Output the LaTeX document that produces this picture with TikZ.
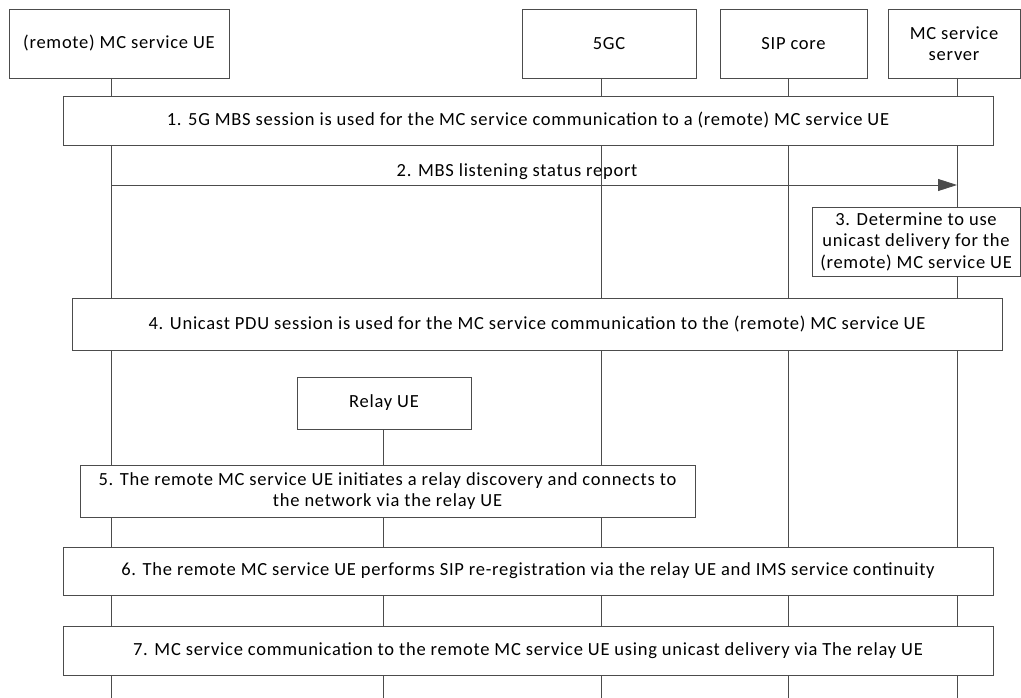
\documentclass[tikz,border=0pt]{standalone}
\usepackage{fontspec}
\setmainfont{Carlito}[LetterSpace=4]
\usetikzlibrary{arrows.meta,positioning,calc}
\definecolor{linegray}{gray}{0.3}

\begin{document}
\begin{tikzpicture}[x=1pt,y=-1pt,
  font=\fontsize{18.5}{21.5}\selectfont,
  actor/.style={draw=linegray,fill=white,line width=0.8pt,align=center,inner sep=2pt},
  stepbox/.style={draw=linegray,fill=white,line width=0.8pt,align=center,inner sep=2pt},
  life/.style={linegray,line width=0.8pt},
  msg/.style={-{Triangle[length=19pt,width=12pt]},linegray,line width=0.8pt}]
\useasboundingbox (0,0) rectangle (1021,698);
% participants
\node[actor,minimum width=220pt,minimum height=69pt] (ue) at (119,43.5) {(remote) MC service UE};
\node[actor,minimum width=174pt,minimum height=69pt] (cn) at (609,43.5) {5GC};
\node[actor,minimum width=147pt,minimum height=69pt] (sip) at (793.5,43.5) {SIP core};
\node[actor,minimum width=132pt,minimum height=69pt] (srv) at (954,43.5) {MC service\\server};
% lifelines
\coordinate (bot) at (0,698);
\coordinate (ueL) at (111,78);
\coordinate (cnL) at (601,78);
\coordinate (sipL) at (788,78);
\coordinate (srvL) at (957,78);
\coordinate (rlyL) at (383,429);
\draw[life] (ueL) -- (ueL |- bot);
\draw[life] (cnL) -- (cnL |- bot);
\draw[life] (sipL) -- (sipL |- bot);
\draw[life] (srvL) -- (srvL |- bot);
\draw[life] (rlyL) -- (rlyL |- bot);
% steps
\node[stepbox,minimum width=930pt,minimum height=49pt] (s1) at (528,120.5)
  {1. 5G MBS session is used for the MC service communication to a (remote) MC service UE};
\coordinate (m2) at (0,185);
\draw[msg] (ueL |- m2) -- (srvL |- m2)
  node[pos=0.48,above=2pt,text=black] (s2) {2. MBS listening status report};
\node[stepbox,minimum width=208pt,minimum height=69pt] (s3) at (916,241.5)
  {3. Determine to use\\unicast delivery for the\\(remote) MC service UE};
\node[stepbox,minimum width=930pt,minimum height=52pt] (s4) at (537,324)
  {4. Unicast PDU session is used for the MC service communication to the (remote) MC service UE};
\node[actor,minimum width=174pt,minimum height=52pt] (rly) at (384,403) {Relay UE};
\node[stepbox,minimum width=615pt,minimum height=52pt] (s5) at (387.5,491)
  {5. The remote MC service UE initiates a relay discovery and connects to\\the network via the relay UE};
\node[stepbox,minimum width=930pt,minimum height=48pt] (s6) at (528,571)
  {6. The remote MC service UE performs SIP re-registration via the relay UE and IMS service continuity};
\node[stepbox,minimum width=930pt,minimum height=49pt] (s7) at (528,650.5)
  {7. MC service communication to the remote MC service UE using unicast delivery via The relay UE};
\end{tikzpicture}
\end{document}
